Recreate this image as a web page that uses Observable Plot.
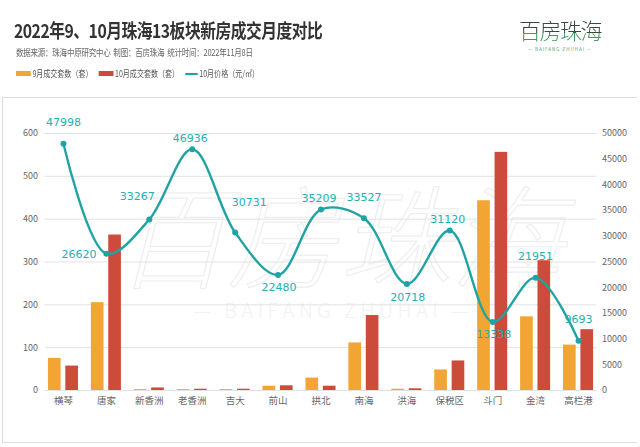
<!DOCTYPE html>
<html><head><meta charset="utf-8">
<script src="https://cdn.jsdelivr.net/npm/d3@7"></script>
<script src="https://cdn.jsdelivr.net/npm/@observablehq/plot@0.6"></script>
<style>
body{margin:0;width:640px;height:447px;background:#fff;font-family:"Noto Sans CJK SC","Noto Sans",sans-serif;position:relative;overflow:hidden}
#title{position:absolute;left:14px;top:16px;font-size:19px;font-weight:700;color:#333;letter-spacing:-0.6px;white-space:nowrap;transform:scaleX(0.83);transform-origin:left top}
#sub{position:absolute;left:16px;top:45px;font-size:9.5px;color:#666;white-space:nowrap;letter-spacing:-0.3px;transform:scaleX(0.79);transform-origin:left top}
#legend{position:absolute;left:16px;top:67px;font-size:9px;color:#555;display:flex;align-items:center;white-space:nowrap;transform:scaleX(0.78);transform-origin:left top}
#legend .sw{display:inline-block;width:19px;height:5px;margin-right:2px}
#legend .ln{display:inline-block;width:16px;height:2px;margin-right:2px}
#legend .it{display:flex;align-items:center;margin-right:8px}
#logo{position:absolute;left:510px;top:13px;width:100px;text-align:center}
#logo .big{font-size:22px;font-weight:300;letter-spacing:-1.5px;background:linear-gradient(#3a4842 62%,#3f9a5c 64%);-webkit-background-clip:text;background-clip:text;color:transparent;line-height:32px}
#logo .small{font-size:4.5px;color:#4aa06a;letter-spacing:1px;margin-top:1px}
#box{position:absolute;left:2px;top:97px;width:634px;height:344px;border:1px solid #ddd;border-right:none}
</style></head>
<body>
<div id="title">2022年9、10月珠海13板块新房成交月度对比</div>
<div id="sub">数据来源：珠海中原研究中心&nbsp; 制图：百房珠海&nbsp; 统计时间：2022年11月8日</div>
<div id="legend">
  <span class="it"><span class="sw" style="background:#F2A532"></span>9月成交套数（套）</span>
  <span class="it"><span class="sw" style="background:#CC4B3B"></span>10月成交套数（套）</span>
  <span class="it"><span class="ln" style="background:#1FA3A3"></span>10月价格（元/㎡）</span>
</div>
<div id="logo"><div class="big">百房珠海</div><div class="small">— BAIFANG ZHUHAI —</div></div>
<div id="box"></div>
<script>
const categories = ["横琴","唐家","新香洲","老香洲","吉大","前山","拱北","南海","洪海","保税区","斗门","金湾","高栏港"];
const sepSales = [75, 205, 2, 2, 2, 10, 29, 111, 3, 48, 443, 172, 106];
const octSales = [57, 363, 6, 3, 3, 11, 10, 175, 4, 69, 556, 303, 142];
const octPrice = [47998, 26620, 33267, 46936, 30731, 22480, 35209, 33527, 20718, 31120, 13338, 21951, 9693];
const labelPlace = ["top","left","topLeft","near","topRight","bottom","near","top","bottom","near","bottom","top","top"];
const leftTicks = [0,100,200,300,400,500,600];
const rightTicks = [0,5000,10000,15000,20000,25000,30000,35000,40000,45000,50000];

const leftMax = 600, rightMax = 50000;
const toLeft = v => v * leftMax / rightMax;

const placeStyle = {
  top: {dx: 0, dy: -21, anchor: "middle"},
  near: {dx: -2, dy: -11, anchor: "middle"},
  topLeft: {dx: -12, dy: -23, anchor: "middle"},
  topRight: {dx: 14, dy: -30, anchor: "middle"},
  bottom: {dx: 1, dy: 13, anchor: "middle"},
  left: {dx: -10, dy: 1, anchor: "end"}
};

const bars = categories.flatMap((c, i) => [
  {i, x1: i - 0.35, x2: i - 0.055, v: sepSales[i], s: "9月"},
  {i, x1: i + 0.055, x2: i + 0.35, v: octSales[i], s: "10月"}
]);
const pts = categories.map((c, i) => ({i, p: octPrice[i], y: toLeft(octPrice[i]), place: labelPlace[i]}));

const labelMarks = Object.entries(placeStyle).map(([k, st]) =>
  Plot.text(pts, {
    x: "i", y: "y", text: d => String(d.p), filter: d => d.place === k,
    dx: st.dx, dy: st.dy, textAnchor: st.anchor,
    fill: "#25AFB3", fontSize: 11, fontFamily: "'DejaVu Sans', sans-serif"
  })
);

const chart = Plot.plot({
  width: 634, height: 343,
  marginTop: 35, marginBottom: 51, marginLeft: 38.5, marginRight: 37.5,
  style: {background: "transparent", fontFamily: "'Noto Sans CJK SC', sans-serif"},
  x: {type: "linear", domain: [-0.5, 12.5], axis: null},
  y: {domain: [0, leftMax], axis: null},
  color: {domain: ["9月","10月"], range: ["#F2A532","#CC4B3B"]},
  marks: [
    Plot.text([0], {frameAnchor: "middle", dx: 18, dy: -18, text: () => "百房珠海", fontSize: 112, fontStyle: "italic", fontWeight: 200, fill: "none", stroke: "#eeeeee", strokeWidth: 1.2}),
    Plot.text([0], {frameAnchor: "middle", dx: 10, dy: 50, text: () => "—   B A I F A N G   Z H U H A I   —", fontSize: 20, fontWeight: 200, fill: "#f2f2f2"}),
    Plot.ruleY(leftTicks, {stroke: "#e2e2e2", strokeWidth: 1, x1: -0.43, x2: 12.43}),
    Plot.axisY(leftTicks, {anchor: "left", tickSize: 0, tickPadding: 4, fontSize: 9, fill: "#666", label: null}),
    Plot.axisY(rightTicks.map(toLeft), {anchor: "right", tickSize: 0, tickPadding: 2, fontSize: 9, fill: "#666", label: null, tickFormat: (d, k) => String(rightTicks[k])}),
    Plot.axisX(d3.range(categories.length), {anchor: "bottom", tickSize: 0, tickPadding: 7, fontSize: 9.5, fill: "#666", label: null, tickFormat: k => categories[k]}),
    Plot.rectY(bars, {x1: "x1", x2: "x2", y: "v", fill: "s"}),
    Plot.line(pts, {x: "i", y: "y", curve: "catmull-rom", stroke: "#1FA3A3", strokeWidth: 2.4}),
    Plot.dot(pts, {x: "i", y: "y", r: 3, fill: "#1FA3A3"}),
    ...labelMarks
  ]
});
chart.style.position = "absolute";
chart.style.left = "3px";
chart.style.top = "98px";
document.body.appendChild(chart);
</script>
</body></html>
